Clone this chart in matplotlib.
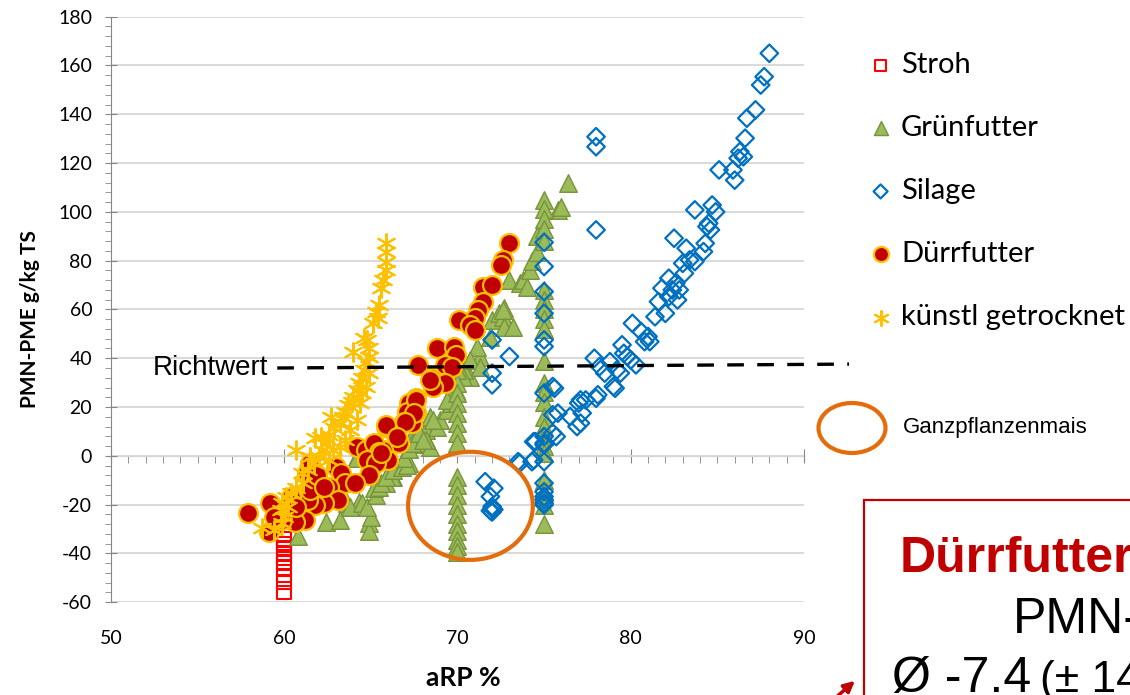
import matplotlib.pyplot as plt
from matplotlib.patches import Ellipse, Rectangle
from matplotlib.ticker import MultipleLocator

# --- data (aRP %, PMN-PME g/kg TS) ---
stroh_x = [60.0] * 11
stroh_y = [-32, -34, -36, -38, -40, -42, -44, -46, -49, -52, -56]

gruen_x = [60.8, 62.4, 63.2, 64.9, 64.9, 65.0, 63.6, 64.3, 63.8, 64.5, 64.8, 65.3, 65.2, 65.5,
           65.9, 65.6, 66.3, 66.2, 65.9, 66.3, 66.8, 67.2, 67.1, 66.9, 66.1, 64.2, 64.2, 67.5,
           67.8, 67.2, 68.2, 67.3, 67.8, 68.4, 67.4, 68.2, 67.8, 68.8, 68.4, 69.0, 69.4, 69.6,
           69.9, 70.1, 70.7, 70.4, 71.3, 71.1, 72.0, 72.4, 72.6, 72.7, 72.8, 72.6, 72.7, 73.2,
           73.0, 73.6, 73.8, 74.0, 74.2, 74.3, 74.6, 74.6, 75.8, 76.0, 76.4, 71.9, 70.7, 71.3,
           70.3, 69.4, 68.6, 68.0,
           70.0, 70.0, 70.0, 70.0, 70.0, 70.0, 70.0, 70.0, 70.0, 70.0, 70.0, 70.0, 70.0, 70.0,
           70.0, 70.0, 70.0, 70.0,
           75.0, 75.0, 75.0, 75.0, 75.0, 75.0, 75.0, 75.0, 75.0, 75.0, 75.0, 75.0, 75.0, 75.0,
           75.0, 75.0, 75.0, 75.0, 75.0, 75.0, 75.0, 75.0, 75.0]
gruen_y = [-33, -27, -26.5, -27.5, -31, -25, -19.5, -19, -21, -19.5, -21, -16, -13, -12.6,
           -11, -11, -8.7, -8.5, -8.5, -5.8, -4.5, -3, -3.7, -1, -1, -0.5, -1, 5,
           7.8, 3, 10.6, 7.3, 5.3, 3.8, 5.3, 6.5, 9.4, 12, 16, 14.7, 18.8, 21.7,
           27, 32.5, 32.5, 35.2, 40.7, 44.8, 55.7, 58.5, 57, 60.6, 54.4, 59.8, 53, 53,
           72, 70.8, 72, 69.4, 76, 80, 83.7, 90, 100.8, 102, 111.8, 48.9, 39.3, 36.6,
           32.5, 22.9, 14.7, 6.5,
           35, 30, 25.6, 21.6, 17.6, 13.5, 9.4, 5.3, -8.6, -12, -16, -20, -24, -28,
           -31, -34.5, -37, -39.5,
           105, 101, 97, 93, 88, 68, 64, 60, 56, 52, 39, 30, 26, 22,
           16, 12, 8, 4, 1, -10, -15, -20, -28]

silage_x = [88.0, 87.7, 87.5, 87.2, 86.7, 86.6, 86.3, 86.5, 86.2, 86.0, 85.1, 85.9, 84.7, 84.9,
            83.7, 84.5, 84.4, 84.6, 84.3, 84.2, 82.5, 83.2, 83.4, 83.7, 83.0, 83.1, 82.2, 82.6,
            81.8, 82.4, 82.8, 82.2, 82.7, 81.6, 82.0, 81.4, 80.1, 80.6, 81.0, 80.8, 81.1, 79.5,
            79.6, 79.8, 80.0, 80.3, 77.9, 78.8, 78.5, 79.4, 79.0, 78.0, 78.1, 77.1, 77.2, 77.1,
            78.0, 78.0, 78.0, 78.2, 79.2, 79.1, 77.4, 77.0, 76.5, 76.9, 75.8, 75.6, 75.7, 74.5,
            74.3, 73.6, 73.0, 72.0, 72.0, 72.0, 71.6, 72.1, 71.9, 72.0, 72.0, 71.9, 72.1, 72.0,
            73.5, 74.4, 75.5, 75.5, 74.4, 75.5,
            75.0, 75.0, 75.0, 75.0, 75.0, 75.0, 75.0, 75.0, 75.0, 75.0, 75.0, 75.0, 75.0, 75.0,
            75.0, 75.0, 75.0]
silage_y = [165, 155.4, 152, 141.8, 138.4, 130.2, 124.7, 122.6, 122, 113, 117.2, 117.2, 102.8, 100,
            100.8, 95.3, 94, 92.6, 87.1, 83.7, 89.2, 85.1, 80.3, 79.6, 78.9, 74.8, 72.8, 70.7,
            68.7, 68, 68, 65.2, 63.9, 63.2, 58.4, 57, 54.3, 50.9, 48.9, 46.8, 46.8, 45.5,
            42, 40.7, 39.3, 37.3, 40, 38.6, 33.9, 33.9, 28.4, 23.6, 25, 22.9, 17.5, 13.4,
            130.8, 126.7, 92.6, 36.6, 35.2, 27.7, 22.9, 21.6, 16.1, 12, 17.5, 27.7, 7.9, 5.8,
            -2.4, -3, 40.7, 47.5, 33.9, 29.1, -10.6, -13.3, -16.7, -20.8, -21.5, -22.5, -22, -23,
            -2.4, -1.7, 28.4, 16.8, 5.8, 9.3,
            87.5, 77.6, 67.3, 58.4, 47.5, 44.8, 25.7, 7.9, 4.5, 5.2, -2.4, -11.2, -14.7, -16.7,
            -18, -19.4, -20.1]

duerr_x = [73.0, 72.6, 72.5, 71.5, 72.0, 71.5, 71.2, 71.0, 70.1, 70.7, 71.0, 68.8, 69.8, 69.9,
           67.7, 69.3, 69.7, 68.5, 69.3, 68.6, 67.6, 67.2, 67.6, 67.1, 66.9, 67.4, 65.9, 66.4,
           66.6, 65.7, 66.0, 68.4, 67.6, 67.5, 67.0, 65.9, 66.5, 64.2, 64.7, 65.2, 65.5, 64.8,
           65.3, 64.9, 63.0, 63.3, 63.5, 64.1, 62.6, 62.2, 63.1, 62.3, 61.8, 61.4, 61.3, 61.8,
           61.5, 61.2, 60.6, 59.9, 59.2, 59.1, 57.9, 59.4, 60.4, 60.7, 61.5, 61.9, 62.3, 65.6]
duerr_y = [87.1, 80.3, 78.2, 69.3, 70, 63.2, 59.8, 56.4, 55.7, 53.7, 51.6, 44.1, 44.8, 41.4,
           37.3, 37.3, 36.6, 31.8, 29.8, 28.4, 23.6, 21.5, 18.1, 18.1, 14, 13.3, 12, 9.2,
           5.2, 2.4, -1.7, 31.1, 22.9, 17.5, 14, 12.7, 7.9, 3.8, 2.4, 5.2, 1.7, -1.7,
           -3, -7.8, -4.4, -7.1, -11.2, -11.2, -12.6, -14, -18.1, -19.4, -20.1, -18.1, -7.1, -11.2,
           -14, -26.3, -27, -26.3, -19.4, -31.1, -23.5, -24.9, -16.7, -20.8, -3, -7.8, -12.6, 1.1]

kuenstl_x = [65.9, 65.9, 65.9, 65.9, 65.7, 65.6, 65.5, 65.3, 65.4, 65.1, 64.8, 64.6, 64.0, 64.9,
             64.9, 64.7, 64.6, 64.5, 64.3, 64.2, 64.0, 63.9, 63.7, 63.5, 63.4, 63.2, 62.7, 62.9,
             62.6, 62.4, 62.1, 61.8, 62.2, 62.0, 60.7, 61.7, 61.4, 61.0, 61.1, 60.7, 60.4, 60.1,
             59.9, 60.2, 59.8, 60.0, 59.9, 58.7, 59.4, 61.5, 62.6, 62.8, 63.2, 63.5, 63.8, 64.2,
             64.4, 64.5, 64.7, 64.9]
kuenstl_y = [87.1, 83.7, 79.6, 76.2, 72.1, 68.7, 61.8, 59.1, 56.4, 54.3, 47.5, 48.2, 42.7, 44.1,
             40.7, 38.6, 35.2, 31.8, 29.8, 27, 24.3, 22.2, 20.9, 18.1, 16.1, 14, 16.1, 11.3,
             8.6, 5.2, 7.9, 7.2, 2.4, -0.3, 2.4, -3, -5.8, -7.1, -11.2, -13.3, -15.3, -16.7,
             -19.4, -20.8, -22.2, -24.9, -27.6, -29.7, -30.4, -0.3, -1.7, 2.4, 3.8, 6.5, 10.6, 14.7,
             21.5, 25.7, 28.4, 33.9]

richt_x = [59.6, 92.6]
richt_y = [36.0, 37.6]

plt.rcParams['font.family'] = 'Lato'
plt.rcParams['axes.unicode_minus'] = False

fig = plt.figure(figsize=(11.3, 6.95), dpi=100)
ax = fig.add_axes([110.9 / 1130, 1 - 602.2 / 695, (804 - 110.9) / 1130, (602.2 - 16.7) / 695])

s1 = ax.scatter(stroh_x, stroh_y, marker='s', s=95, facecolors='none', edgecolors='#FF0000',
                linewidths=1.5, label='Stroh')
s2 = ax.scatter(gruen_x, gruen_y, marker='^', s=160, facecolors='#9BBB59', edgecolors='#77933C',
                linewidths=1, label='Grünfutter')
s3 = ax.scatter(silage_x, silage_y, marker='D', s=80, facecolors='none', edgecolors='#0070C0',
                linewidths=1.6, label='Silage')
s4 = ax.scatter(duerr_x, duerr_y, marker='o', s=185, facecolors='#C00000', edgecolors='#FFC000',
                linewidths=1.6, label='Dürrfutter')
s5 = ax.scatter(kuenstl_x, kuenstl_y, marker=(6, 2, 0), s=180, color='#FFC000',
                linewidths=1.5, label='künstl getrocknet')

ax.set_xlim(50, 90)
ax.set_ylim(-60, 180)
ax.yaxis.set_major_locator(MultipleLocator(20))
ax.yaxis.set_minor_locator(MultipleLocator(4))
ax.xaxis.set_major_locator(MultipleLocator(10))
ax.grid(axis='y', color='#D9D9D9', lw=1.4)
ax.set_axisbelow(True)
for sp in ['top', 'right', 'bottom']:
    ax.spines[sp].set_visible(False)
ax.spines['left'].set_color('#868686')
ax.tick_params(axis='y', which='major', direction='inout', length=9, color='#868686',
               labelsize=14, pad=9)
ax.tick_params(axis='y', which='minor', direction='out', length=4.5, color='#868686')
ax.tick_params(axis='x', which='both', length=0, labelsize=14, pad=20)

# horizontal axis drawn through y = 0
sec = ax.secondary_xaxis(0.25)
sec.xaxis.set_major_locator(MultipleLocator(10))
sec.xaxis.set_minor_locator(MultipleLocator(1))
sec.spines['bottom'].set_color('#868686')
sec.tick_params(which='major', direction='inout', length=10, color='#868686', labelbottom=False)
sec.tick_params(which='minor', direction='out', length=5, color='#868686')

ax.plot(richt_x, richt_y, color='black', ls='--', lw=2.4, dashes=(5, 4), clip_on=False)
ax.text(59.06, 33.2, 'Richtwert', ha='right', va='baseline', fontsize=20,
        family='Liberation Sans')

ax.add_patch(Ellipse((70.75, -20.5), 7.2, 44.3, fill=False, ec='#E46C0A', lw=3, zorder=5))

fig.text(30 / 1130, 1 - 319 / 695, 'PMN-PME g/kg TS', rotation=90, ha='center', va='center',
         fontweight='bold', fontsize=15)
fig.text(463 / 1130, 1 - 678 / 695, 'aRP %', ha='center', va='center', fontweight='bold',
         fontsize=19)

fig.legend(handles=[s1, s2, s3, s4, s5], loc='upper left', bbox_to_anchor=(866 / 1130, 1 - 52 / 695),
           frameon=False, fontsize=21, labelspacing=1.27, handletextpad=0.2, markerscale=0.8,
           borderaxespad=0, handlelength=1.0, borderpad=0)

fig.add_artist(Ellipse((852 / 1130, 1 - 428 / 695), 67 / 1130, 50 / 695, transform=fig.transFigure,
                       fill=False, ec='#E46C0A', lw=3))
fig.text(903 / 1130, 1 - 428 / 695, 'Ganzpflanzenmais', va='center', fontsize=16,
         family='Liberation Sans')

fig.add_artist(Rectangle((864 / 1130, -0.1), 0.5, 1.1 - 500 / 695, transform=fig.transFigure,
                         fill=False, ec='#C00000', lw=1.6))
fig.text(900 / 1130, 1 - 572 / 695, 'Dürrfutter', color='#C00000', fontweight='bold', fontsize=36,
         family='Liberation Sans', va='baseline')
fig.text(1013 / 1130, 1 - 633 / 695, 'PMN-', fontsize=36, family='Liberation Sans', va='baseline')
fig.text(892 / 1130, 1 - 692 / 695, 'Ø -7.4', fontsize=36, family='Liberation Sans', va='baseline')
fig.text(1040 / 1130, 1 - 692 / 695, '(± 14', fontsize=32, family='Liberation Sans', va='baseline')
ax.annotate('', xy=(857 / 1130, 1 - 679 / 695), xycoords='figure fraction',
            xytext=(833 / 1130, 1 - 700 / 695), textcoords='figure fraction',
            arrowprops=dict(arrowstyle='-|>', color='#C00000', lw=2.5, mutation_scale=16),
            annotation_clip=False)

fig.savefig('out.png', dpi=100)
